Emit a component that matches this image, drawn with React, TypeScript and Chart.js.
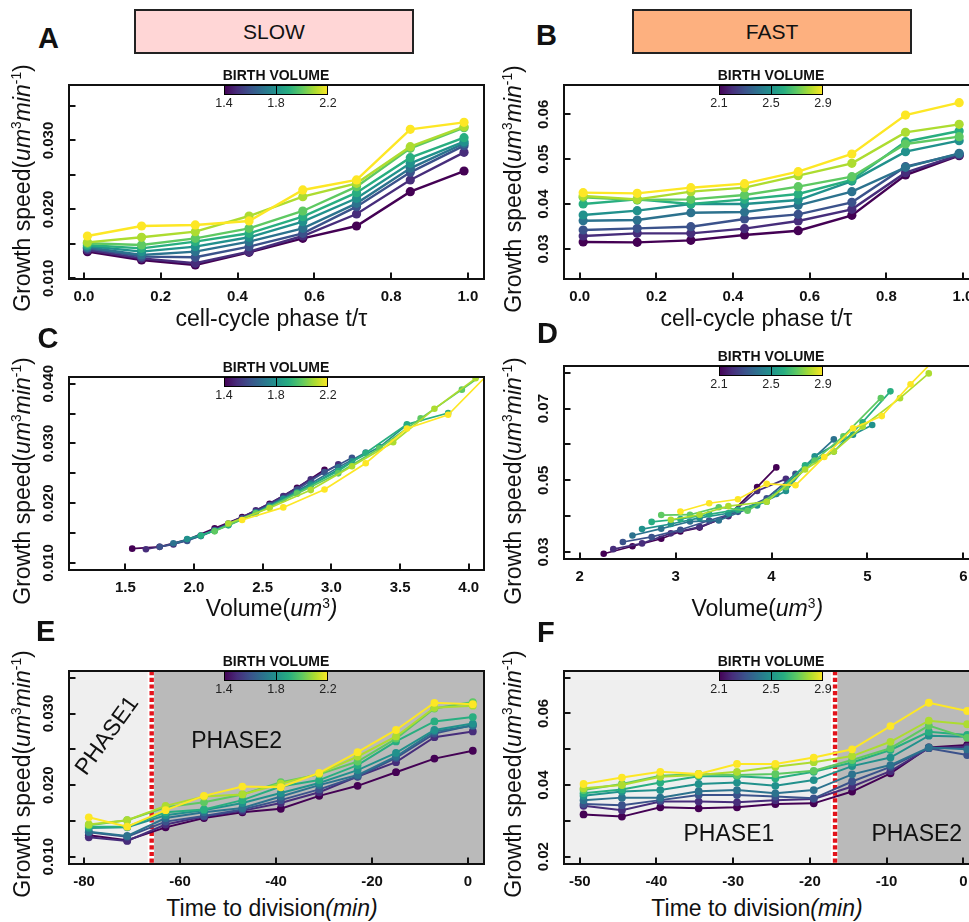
import React, { useEffect, useRef } from 'react';
import { Chart, registerables } from 'chart.js';

Chart.register(...registerables);

const FONT = '"Liberation Sans", Arial, Helvetica, sans-serif';
const INK = '#111111';
const VIRIDIS = ['#440154', '#472d7b', '#3b528b', '#2c728e', '#21918c', '#28ae80', '#5ec962', '#addc30', '#fde725'];

// ---------------- data ----------------
const PHASE_BINS = [0.009, 0.15, 0.29, 0.43, 0.57, 0.71, 0.85, 0.99];

const SLOW_PHASE_SPEED = [
  [0.01387, 0.01266, 0.01193, 0.01377, 0.0158, 0.01759, 0.02257, 0.02557],
  [0.01411, 0.0129, 0.01218, 0.01387, 0.01614, 0.01933, 0.02427, 0.02828],
  [0.01435, 0.01314, 0.01305, 0.01459, 0.01653, 0.0204, 0.02538, 0.02925],
  [0.0145, 0.01339, 0.01387, 0.01532, 0.01725, 0.02088, 0.02596, 0.02959],
  [0.01469, 0.01387, 0.01459, 0.01595, 0.01822, 0.02161, 0.02668, 0.02983],
  [0.01484, 0.01435, 0.01532, 0.01653, 0.01895, 0.02243, 0.02751, 0.03041],
  [0.01508, 0.01484, 0.0158, 0.01725, 0.01977, 0.0233, 0.02886, 0.03186],
  [0.01522, 0.01595, 0.01677, 0.01904, 0.02185, 0.02378, 0.0291, 0.032],
  [0.01614, 0.01759, 0.01774, 0.01832, 0.02282, 0.02427, 0.03162, 0.03263],
];

const FAST_PHASE_SPEED = [
  [0.03156, 0.03148, 0.03193, 0.03312, 0.03408, 0.0375, 0.04648, 0.05079],
  [0.0329, 0.03349, 0.03349, 0.03453, 0.03624, 0.03883, 0.047, 0.05094],
  [0.03423, 0.0346, 0.03497, 0.03668, 0.03772, 0.04039, 0.04834, 0.05116],
  [0.03631, 0.03646, 0.03809, 0.03824, 0.03973, 0.04277, 0.04819, 0.05131],
  [0.03757, 0.03854, 0.04002, 0.04002, 0.04091, 0.04514, 0.05168, 0.05413],
  [0.04002, 0.04106, 0.04002, 0.04106, 0.04225, 0.04537, 0.0539, 0.05628],
  [0.04151, 0.04091, 0.04106, 0.04203, 0.04388, 0.04611, 0.05339, 0.05502],
  [0.0418, 0.04106, 0.04277, 0.04366, 0.04633, 0.04908, 0.05598, 0.05777],
  [0.04255, 0.0424, 0.04366, 0.04455, 0.04722, 0.05116, 0.05984, 0.06259],
];

const SLOW_VOLUME = [
  [1.55, 1.75, 1.95, 2.15, 2.35, 2.55, 2.75, 2.95],
  [1.65, 1.85, 2.05, 2.25, 2.45, 2.65, 2.85, 3.05],
  [1.75, 1.95, 2.15, 2.35, 2.55, 2.75, 2.95, 3.15],
  [1.85, 2.05, 2.25, 2.45, 2.65, 2.85, 3.05, 3.25],
  [1.95, 2.15, 2.45, 2.65, 2.85, 3.15, 3.35, 3.55],
  [2.05, 2.25, 2.55, 2.75, 3.05, 3.25, 3.55, 3.85],
  [2.15, 2.45, 2.75, 3.05, 3.35, 3.65, 3.95, 4.25],
  [2.25, 2.55, 2.85, 3.15, 3.45, 3.75, 4.05, 4.35],
  [2.35, 2.65, 2.95, 3.25, 3.55, 3.85, 4.15, 4.45],
];
const SLOW_VOLUME_SPEED = [
  [0.0124, 0.0127, 0.0139, 0.0158, 0.0177, 0.0199, 0.0226, 0.0256],
  [0.0123, 0.0131, 0.0146, 0.0166, 0.0188, 0.0212, 0.024, 0.0265],
  [0.0127, 0.0137, 0.0155, 0.0175, 0.0197, 0.0223, 0.0252, 0.0276],
  [0.0133, 0.0145, 0.0164, 0.0185, 0.0208, 0.0233, 0.026, 0.0285],
  [0.014, 0.0154, 0.0184, 0.0207, 0.023, 0.027, 0.0294, 0.0331],
  [0.0146, 0.0163, 0.0194, 0.0218, 0.0254, 0.0284, 0.0332, 0.0351],
  [0.0153, 0.0183, 0.0216, 0.025, 0.0292, 0.0342, 0.039, 0.044],
  [0.0166, 0.0192, 0.0222, 0.0262, 0.0302, 0.0358, 0.0409, 0.046],
  [0.0172, 0.0193, 0.0223, 0.0267, 0.0325, 0.0348, 0.0418, 0.048],
];

const FAST_VOLUME = [
  [2.25, 2.55, 2.85, 3.05, 3.25, 3.55, 3.85, 4.05],
  [2.35, 2.65, 2.95, 3.25, 3.55, 3.85, 4.15],
  [2.45, 2.75, 3.05, 3.35, 3.65, 3.95, 4.25],
  [2.55, 2.85, 3.15, 3.45, 3.75, 4.05, 4.35, 4.65],
  [2.65, 2.95, 3.25, 3.55, 3.85, 4.15, 4.45, 4.85, 5.05],
  [2.75, 3.05, 3.35, 3.65, 3.95, 4.35, 4.65, 4.95, 5.24],
  [2.85, 3.15, 3.45, 3.75, 4.15, 4.45, 4.75, 5.14],
  [2.95, 3.25, 3.55, 3.95, 4.35, 4.65, 4.95, 5.34, 5.64],
  [3.05, 3.35, 3.65, 3.95, 4.25, 4.55, 4.85, 5.15, 5.45, 5.75],
];
const FAST_VOLUME_SPEED = [
  [0.0295, 0.0316, 0.0337, 0.0357, 0.0368, 0.0402, 0.0481, 0.0536],
  [0.0308, 0.0324, 0.0352, 0.037, 0.04, 0.047, 0.0504],
  [0.0328, 0.0342, 0.0362, 0.0388, 0.0412, 0.045, 0.0518],
  [0.0346, 0.0365, 0.0385, 0.0388, 0.042, 0.0462, 0.054, 0.0614],
  [0.0364, 0.0378, 0.0395, 0.0408, 0.043, 0.047, 0.0567, 0.0627, 0.0654],
  [0.0384, 0.0392, 0.0405, 0.0418, 0.044, 0.0542, 0.058, 0.0662, 0.0748],
  [0.0403, 0.0404, 0.0425, 0.0415, 0.0481, 0.0555, 0.0623, 0.0729],
  [0.039, 0.0404, 0.0428, 0.044, 0.053, 0.058, 0.065, 0.0729, 0.0798],
  [0.0413, 0.0436, 0.0447, 0.049, 0.0486, 0.0565, 0.0645, 0.0679, 0.0768, 0.085],
];

const SLOW_TIME = [-79, -71, -63, -55, -47, -39, -31, -23, -15, -7, 1];
const SLOW_TIME_SPEED = [
  [0.013, 0.0123, 0.0141, 0.0154, 0.0162, 0.0167, 0.0185, 0.0199, 0.0218, 0.0237, 0.0248],
  [0.0127, 0.0122, 0.0145, 0.0156, 0.0164, 0.0175, 0.019, 0.0212, 0.0232, 0.0267, 0.0275],
  [0.0134, 0.0128, 0.0149, 0.0157, 0.0166, 0.0179, 0.0194, 0.0212, 0.0238, 0.0272, 0.0284],
  [0.0135, 0.0129, 0.0154, 0.0162, 0.0168, 0.0184, 0.02, 0.0214, 0.024, 0.0275, 0.0283],
  [0.014, 0.0141, 0.0158, 0.0165, 0.0175, 0.0189, 0.0203, 0.0221, 0.0245, 0.0277, 0.0286],
  [0.0142, 0.0142, 0.0162, 0.0166, 0.0179, 0.0198, 0.0207, 0.0228, 0.0261, 0.0289, 0.0295],
  [0.0144, 0.0151, 0.0169, 0.0176, 0.0187, 0.0204, 0.0215, 0.0233, 0.0265, 0.0307, 0.0316],
  [0.0145, 0.0151, 0.0171, 0.0184, 0.0187, 0.0202, 0.0216, 0.024, 0.0268, 0.0308, 0.0311],
  [0.0155, 0.0142, 0.0165, 0.0185, 0.0198, 0.0197, 0.0217, 0.0246, 0.0277, 0.0315, 0.0313],
];

const FAST_TIME = [-49.5, -44.5, -39.5, -34.5, -29.5, -24.5, -19.5, -14.5, -9.5, -4.5, 0.5];
const FAST_TIME_SPEED = [
  [0.0318, 0.0312, 0.0338, 0.0335, 0.0338, 0.0347, 0.0349, 0.0382, 0.0433, 0.0505, 0.0512],
  [0.0342, 0.033, 0.0354, 0.0354, 0.0352, 0.0358, 0.0361, 0.0396, 0.0439, 0.0503, 0.0507],
  [0.0347, 0.0344, 0.0358, 0.0372, 0.0372, 0.0368, 0.0363, 0.041, 0.0451, 0.0503, 0.0484],
  [0.0358, 0.0365, 0.0365, 0.0383, 0.0386, 0.0377, 0.0386, 0.043, 0.0456, 0.0505, 0.05],
  [0.037, 0.0382, 0.0386, 0.0403, 0.0407, 0.0398, 0.0414, 0.0453, 0.0477, 0.0538, 0.0535],
  [0.0377, 0.0388, 0.0407, 0.0425, 0.0425, 0.0419, 0.0437, 0.0463, 0.0498, 0.0549, 0.054],
  [0.0386, 0.0403, 0.0426, 0.0431, 0.0428, 0.0431, 0.044, 0.047, 0.0503, 0.0566, 0.0532],
  [0.0391, 0.04, 0.0423, 0.0428, 0.0437, 0.0451, 0.0464, 0.0481, 0.0521, 0.058, 0.057],
  [0.0403, 0.0421, 0.0437, 0.0431, 0.0459, 0.0459, 0.0477, 0.05, 0.0565, 0.063, 0.0607],
];

const SLOW_PHASE_SWITCH = -65.9;
const FAST_PHASE_SWITCH = -16.72;

const SLOW_BIRTH_TICKS = ['1.4', '1.8', '2.2'];
const FAST_BIRTH_TICKS = ['2.1', '2.5', '2.9'];

const PHASE_X_TICKS = ['0.0', '0.2', '0.4', '0.6', '0.8', '1.0'];
const SLOW_VOLUME_X_TICKS = ['1.5', '2.0', '2.5', '3.0', '3.5', '4.0'];
const FAST_VOLUME_X_TICKS = ['2', '3', '4', '5', '6'];
const SLOW_TIME_X_TICKS = ['-80', '-60', '-40', '-20', '0'];
const FAST_TIME_X_TICKS = ['-50', '-40', '-30', '-20', '-10', '0'];

const SLOW_PHASE_Y_MARKS = [0.01, 0.015, 0.02, 0.025, 0.03, 0.035];
const SLOW_PHASE_Y_TICKS = ['0.010', '0.020', '0.030'];
const FAST_PHASE_Y_MARKS = [0.03, 0.04, 0.05, 0.06];
const FAST_PHASE_Y_TICKS = ['0.03', '0.04', '0.05', '0.06'];
const SLOW_VOLUME_Y_MARKS = [0.01, 0.015, 0.02, 0.025, 0.03, 0.035, 0.04];
const SLOW_VOLUME_Y_TICKS = ['0.010', '0.020', '0.030', '0.040'];
const FAST_VOLUME_Y_MARKS = [0.03, 0.04, 0.05, 0.06, 0.07, 0.08];
const FAST_VOLUME_Y_TICKS = ['0.03', '0.05', '0.07'];
const SLOW_TIME_Y_MARKS = [0.01, 0.015, 0.02, 0.025, 0.03, 0.035];
const SLOW_TIME_Y_TICKS = ['0.010', '0.020', '0.030'];
const FAST_TIME_Y_MARKS = [0.02, 0.03, 0.04, 0.05, 0.06, 0.07];
const FAST_TIME_Y_TICKS = ['0.02', '0.04', '0.06'];

// ---------------- layout ----------------
const PAD = { left: 55, top: 25, right: 5, bottom: 30 };

type PhaseLabel = { text: string; x: number; y: number; rot: number };
type PanelSpec = {
  key: string;
  plot: { L: number; T: number; R: number; B: number };
  xRange: [number, number];
  yRange: [number, number];
  xs: number[][];
  ys: number[][];
  xTicks: string[];
  yMarks: number[];
  yTicks: string[];
  birthTicks: string[];
  pointRadius: number;
  lineWidth: number;
  phases?: { at: number; labels: PhaseLabel[] };
};

const same = (arr: number[]) => Array.from({ length: 9 }, () => arr);

const PANELS: PanelSpec[] = [
  {
    key: 'A', plot: { L: 69, T: 85, R: 484, B: 279 },
    xRange: [-0.039, 1.042], yRange: [0.0099, 0.03805],
    xs: same(PHASE_BINS), ys: SLOW_PHASE_SPEED,
    xTicks: PHASE_X_TICKS, yMarks: SLOW_PHASE_Y_MARKS, yTicks: SLOW_PHASE_Y_TICKS,
    birthTicks: SLOW_BIRTH_TICKS, pointRadius: 4.6, lineWidth: 2.4,
  },
  {
    key: 'B', plot: { L: 564, T: 85, R: 975, B: 279 },
    xRange: [-0.041, 1.0313], yRange: [0.02332, 0.06653],
    xs: same(PHASE_BINS), ys: FAST_PHASE_SPEED,
    xTicks: PHASE_X_TICKS, yMarks: FAST_PHASE_Y_MARKS, yTicks: FAST_PHASE_Y_TICKS,
    birthTicks: FAST_BIRTH_TICKS, pointRadius: 4.6, lineWidth: 2.4,
  },
  {
    key: 'C', plot: { L: 69, T: 377, R: 484, B: 570 },
    xRange: [1.09, 4.111], yRange: [0.00883, 0.04112],
    xs: SLOW_VOLUME, ys: SLOW_VOLUME_SPEED,
    xTicks: SLOW_VOLUME_X_TICKS, yMarks: SLOW_VOLUME_Y_MARKS, yTicks: SLOW_VOLUME_Y_TICKS,
    birthTicks: SLOW_BIRTH_TICKS, pointRadius: 3.3, lineWidth: 1.7,
  },
  {
    key: 'D', plot: { L: 564, T: 366, R: 975, B: 559 },
    xRange: [1.836, 6.122], yRange: [0.02805, 0.08187],
    xs: FAST_VOLUME, ys: FAST_VOLUME_SPEED,
    xTicks: FAST_VOLUME_X_TICKS, yMarks: FAST_VOLUME_Y_MARKS, yTicks: FAST_VOLUME_Y_TICKS,
    birthTicks: FAST_BIRTH_TICKS, pointRadius: 3.3, lineWidth: 1.7,
  },
  {
    key: 'E', plot: { L: 69, T: 671, R: 484, B: 864 },
    xRange: [-83.125, 3.333], yRange: [0.00898, 0.03594],
    xs: same(SLOW_TIME), ys: SLOW_TIME_SPEED,
    xTicks: SLOW_TIME_X_TICKS, yMarks: SLOW_TIME_Y_MARKS, yTicks: SLOW_TIME_Y_TICKS,
    birthTicks: SLOW_BIRTH_TICKS, pointRadius: 3.9, lineWidth: 2,
    phases: {
      at: SLOW_PHASE_SWITCH,
      labels: [
        { text: 'PHASE1', x: -75.1, y: 0.02686, rot: -54 },
        { text: 'PHASE2', x: -48.2, y: 0.02606, rot: 0 },
      ],
    },
  },
  {
    key: 'F', plot: { L: 564, T: 671, R: 975, B: 864 },
    xRange: [-52.05, 1.52], yRange: [0.01796, 0.07187],
    xs: same(FAST_TIME), ys: FAST_TIME_SPEED,
    xTicks: FAST_TIME_X_TICKS, yMarks: FAST_TIME_Y_MARKS, yTicks: FAST_TIME_Y_TICKS,
    birthTicks: FAST_BIRTH_TICKS, pointRadius: 3.9, lineWidth: 2,
    phases: {
      at: FAST_PHASE_SWITCH,
      labels: [
        { text: 'PHASE1', x: -30.56, y: 0.02626, rot: 0 },
        { text: 'PHASE2', x: -6.07, y: 0.02626, rot: 0 },
      ],
    },
  },
];

function makeDecor(spec: PanelSpec) {
  return {
    id: 'decor' + spec.key,
    beforeDatasetsDraw(chart: any) {
      if (!spec.phases) return;
      const { ctx, chartArea: a, scales } = chart;
      const xb = scales.x.getPixelForValue(spec.phases.at);
      const h = a.bottom - a.top;
      ctx.save();
      ctx.fillStyle = '#efefef';
      ctx.fillRect(a.left, a.top, xb - a.left, h);
      ctx.fillStyle = '#bababa';
      ctx.fillRect(xb, a.top, a.right - xb, h);
      ctx.fillStyle = '#ffffff';
      ctx.fillRect(xb - 4, a.top, 6.4, h);
      ctx.strokeStyle = '#e3141c';
      ctx.lineWidth = 4.4;
      ctx.setLineDash([4.2, 2.5]);
      ctx.beginPath();
      ctx.moveTo(xb, a.top);
      ctx.lineTo(xb, a.bottom);
      ctx.stroke();
      ctx.setLineDash([]);
      ctx.fillStyle = INK;
      ctx.font = `23px ${FONT}`;
      ctx.textAlign = 'center';
      ctx.textBaseline = 'middle';
      for (const l of spec.phases.labels) {
        const px = scales.x.getPixelForValue(l.x);
        const py = scales.y.getPixelForValue(l.y);
        ctx.save();
        ctx.translate(px, py);
        ctx.rotate((l.rot * Math.PI) / 180);
        ctx.fillText(l.text, 0, 0);
        ctx.restore();
      }
      ctx.restore();
    },
    afterDatasetsDraw(chart: any) {
      const { ctx, chartArea: a, scales } = chart;
      ctx.save();
      // frame
      ctx.strokeStyle = INK;
      ctx.lineWidth = 2;
      ctx.strokeRect(a.left, a.top, a.right - a.left, a.bottom - a.top);
      // inward tick marks
      ctx.beginPath();
      for (const t of spec.xTicks) {
        const px = Math.round(scales.x.getPixelForValue(parseFloat(t)));
        ctx.moveTo(px, a.bottom);
        ctx.lineTo(px, a.bottom - 6.5);
      }
      for (const v of spec.yMarks) {
        const py = Math.round(scales.y.getPixelForValue(v));
        ctx.moveTo(a.left, py);
        ctx.lineTo(a.left + 6.5, py);
      }
      ctx.stroke();
      // tick labels
      ctx.fillStyle = INK;
      ctx.font = `bold 15px ${FONT}`;
      ctx.textAlign = 'center';
      ctx.textBaseline = 'middle';
      for (const t of spec.xTicks) {
        const px = scales.x.getPixelForValue(parseFloat(t));
        ctx.fillText(t, px, a.bottom + 17.5);
      }
      for (const t of spec.yTicks) {
        const py = scales.y.getPixelForValue(parseFloat(t));
        ctx.save();
        ctx.translate(a.left - 20, py);
        ctx.rotate(-Math.PI / 2);
        ctx.fillText(t, 0, 0);
        ctx.restore();
      }
      // colour bar
      const cx = a.left + 207;
      const half = 52;
      const top = a.top;
      const bh = 9.5;
      const g = ctx.createLinearGradient(cx - half, 0, cx + half, 0);
      VIRIDIS.forEach((c, i) => g.addColorStop(i / (VIRIDIS.length - 1), c));
      ctx.fillStyle = g;
      ctx.fillRect(cx - half, top, 2 * half, bh);
      ctx.strokeStyle = '#000';
      ctx.lineWidth = 1;
      ctx.strokeRect(cx - half + 0.5, top + 0.5, 2 * half - 1, bh - 0.5);
      ctx.beginPath();
      ctx.moveTo(cx + 0.5, top);
      ctx.lineTo(cx + 0.5, top + bh);
      ctx.stroke();
      ctx.fillStyle = INK;
      ctx.font = `bold 14px ${FONT}`;
      ctx.fillText('BIRTH VOLUME', cx, top - 8.5);
      ctx.fillStyle = '#222';
      ctx.font = `12.5px ${FONT}`;
      spec.birthTicks.forEach((t, i) => ctx.fillText(t, cx - half + i * half, top + 19));
      ctx.restore();
    },
  };
}

function Panel({ spec }: { spec: PanelSpec }) {
  const ref = useRef<HTMLCanvasElement>(null);
  const { L, T, R, B } = spec.plot;
  const left = L - PAD.left;
  const top = T - PAD.top;
  const width = R - L + PAD.left + PAD.right;
  const height = B - T + PAD.top + PAD.bottom;

  useEffect(() => {
    const canvas = ref.current;
    if (!canvas) return;
    const datasets = spec.ys
      .map((ys, k) => ({
        label: 'v' + k,
        data: ys.map((y, i) => ({ x: spec.xs[k][i], y })),
        borderColor: VIRIDIS[k],
        backgroundColor: VIRIDIS[k],
        pointBackgroundColor: VIRIDIS[k],
        pointBorderWidth: 0,
        pointRadius: spec.pointRadius,
        pointHoverRadius: spec.pointRadius,
        borderWidth: spec.lineWidth,
        tension: 0,
        fill: false,
      }))
      .reverse();
    const chart = new Chart(canvas, {
      type: 'line',
      data: { datasets },
      options: {
        responsive: false,
        animation: false,
        devicePixelRatio: 1,
        events: [],
        layout: { padding: PAD },
        scales: {
          x: { type: 'linear', min: spec.xRange[0], max: spec.xRange[1], display: false },
          y: { type: 'linear', min: spec.yRange[0], max: spec.yRange[1], display: false },
        },
        plugins: { legend: { display: false }, tooltip: { enabled: false }, title: { display: false } },
      },
      plugins: [makeDecor(spec)],
    } as any);
    return () => chart.destroy();
  }, [spec]);

  return (
    <canvas
      ref={ref}
      width={width}
      height={height}
      style={{ position: 'absolute', left, top, width, height }}
    />
  );
}

const sup = (t: string) => (
  <span style={{ fontSize: '0.6em', position: 'relative', top: '-0.62em' }}>{t}</span>
);

function YTitle({ cx, cy }: { cx: number; cy: number }) {
  return (
    <div
      style={{
        position: 'absolute', left: cx, top: cy, transform: 'translate(-50%, -50%) rotate(-90deg)',
        whiteSpace: 'nowrap', fontSize: 23, lineHeight: '23px', fontFamily: FONT, color: INK,
      }}
    >
      Growth speed(<i>um</i>{sup('3')}<i>min</i>{sup('-1')})
    </div>
  );
}

function XTitle({ cx, baseline, children }: { cx: number; baseline: number; children: React.ReactNode }) {
  return (
    <div
      style={{
        position: 'absolute', left: cx, top: baseline - 19.5, transform: 'translateX(-50%)',
        whiteSpace: 'nowrap', fontSize: 23, lineHeight: '23px', fontFamily: FONT, color: INK,
      }}
    >
      {children}
    </div>
  );
}

const HEADERS = [
  { text: 'SLOW', left: 134, fill: '#ffd6d6' },
  { text: 'FAST', left: 632, fill: '#fdb07f' },
];

const LETTERS = [
  { t: 'A', left: 38, top: 24.2 },
  { t: 'B', left: 536, top: 21.2 },
  { t: 'C', left: 37.5, top: 324.2 },
  { t: 'D', left: 537, top: 319.2 },
  { t: 'E', left: 36, top: 617.2 },
  { t: 'F', left: 537, top: 618.2 },
];

export default function App() {
  return (
    <div
      style={{
        position: 'absolute', left: 0, top: 0, width: 969, height: 922, overflow: 'hidden',
        background: '#ffffff', fontFamily: FONT,
      }}
    >
      {PANELS.map((p) => (
        <Panel key={p.key} spec={p} />
      ))}
      {HEADERS.map((h) => (
        <div
          key={h.text}
          style={{
            position: 'absolute', left: h.left, top: 9, width: 280, height: 45, boxSizing: 'border-box',
            border: '2px solid #222', background: h.fill, textAlign: 'center', fontSize: 21,
            lineHeight: '41px', color: INK,
          }}
        >
          {h.text}
        </div>
      ))}
      {LETTERS.map((l) => (
        <div
          key={l.t}
          style={{
            position: 'absolute', left: l.left, top: l.top, fontSize: 29, lineHeight: '29px',
            fontWeight: 'bold', color: INK,
          }}
        >
          {l.t}
        </div>
      ))}
      <YTitle cx={24} cy={188} />
      <YTitle cx={515} cy={189} />
      <YTitle cx={24} cy={481} />
      <YTitle cx={515} cy={481} />
      <YTitle cx={24} cy={773.5} />
      <YTitle cx={515} cy={774} />
      <XTitle cx={271.5} baseline={326}>cell-cycle phase t/τ</XTitle>
      <XTitle cx={756.5} baseline={326}>cell-cycle phase t/τ</XTitle>
      <XTitle cx={271.7} baseline={616.7}>
        Volume(<i>um</i>{sup('3')}<i>)</i>
      </XTitle>
      <XTitle cx={757.3} baseline={616.7}>
        Volume(<i>um</i>{sup('3')}<i>)</i>
      </XTitle>
      <XTitle cx={272} baseline={916}>
        Time to division<i>(min)</i>
      </XTitle>
      <XTitle cx={757} baseline={916}>
        Time to division<i>(min)</i>
      </XTitle>
    </div>
  );
}
